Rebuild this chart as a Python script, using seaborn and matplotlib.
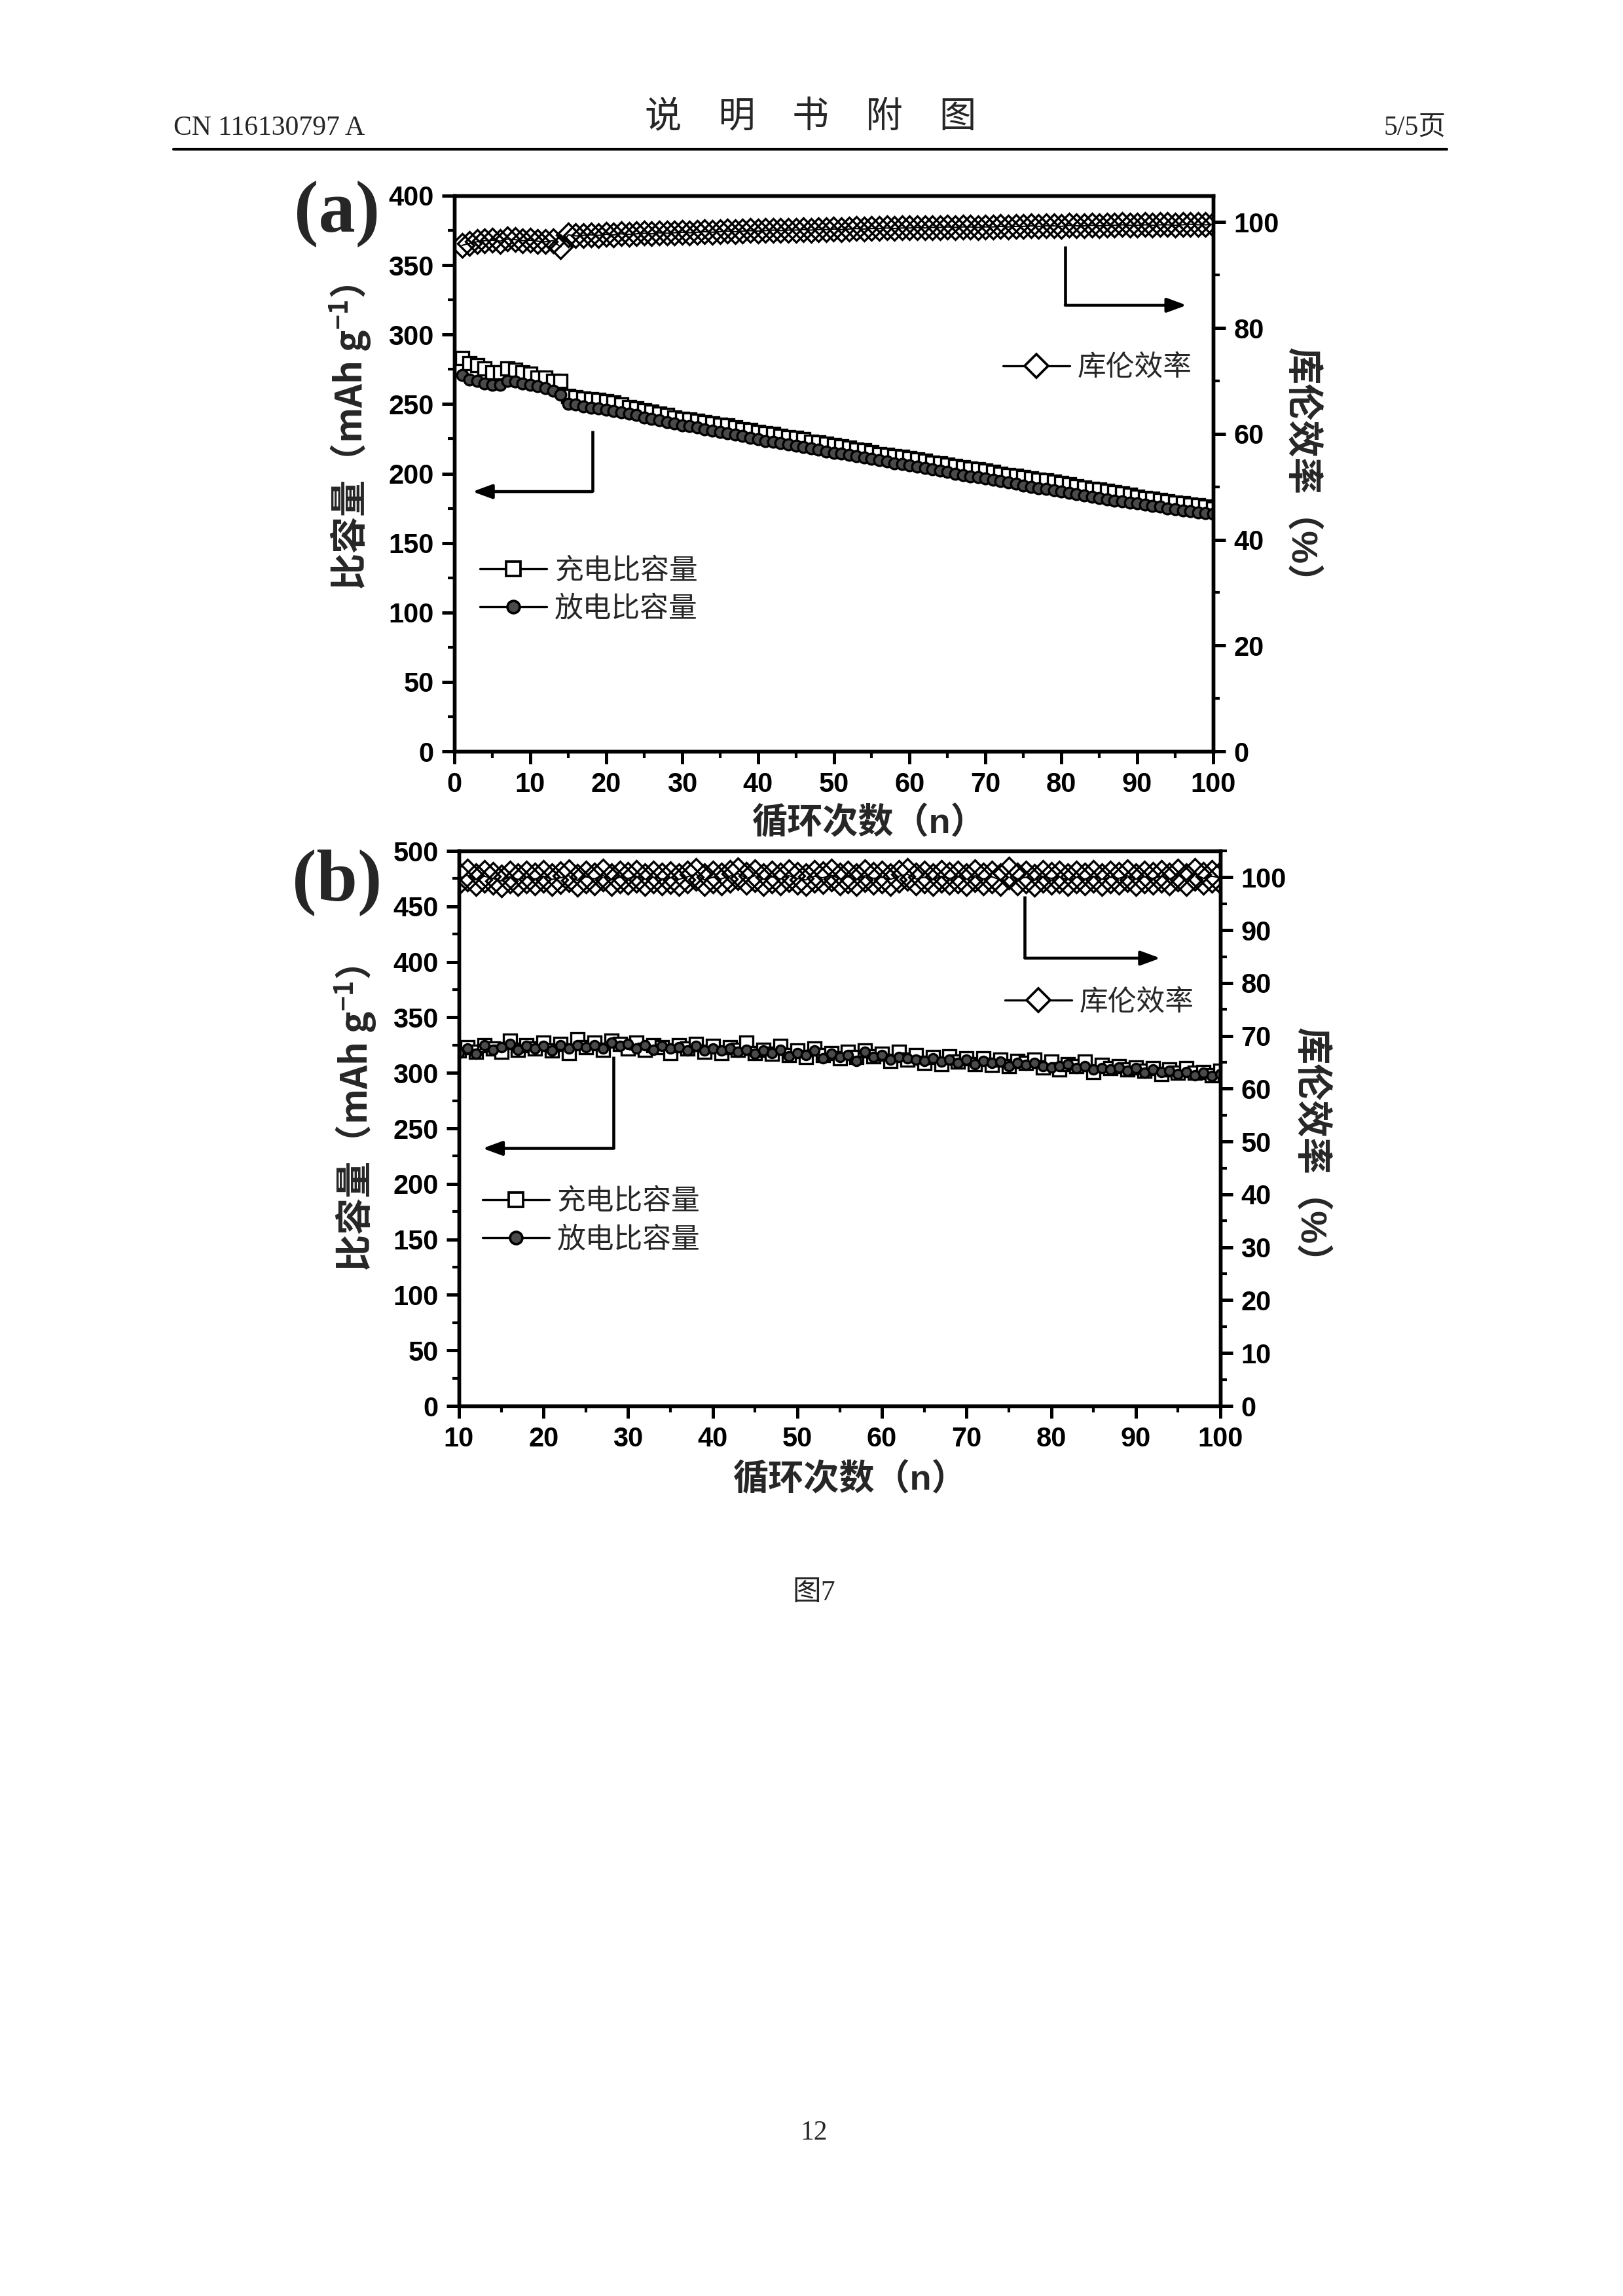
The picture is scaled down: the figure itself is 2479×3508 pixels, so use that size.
import matplotlib
matplotlib.use('Agg')
import matplotlib.pyplot as plt
from matplotlib.lines import Line2D
from matplotlib.ticker import MultipleLocator
import seaborn as sns

# ---- values ----
cycles_a = list(range(1, 101))
charge_a = [283, 279.5, 278, 275.5, 273, 273, 275.5, 274.5, 273, 272,
            269, 269, 266.5, 266.5, 256, 255, 254, 253.5, 253, 252,
            251, 249.5, 248, 247, 245.5, 244.5, 243, 242, 240.5, 239.5,
            239, 238, 237, 236, 235, 234.5, 233, 232, 231.5, 230,
            229, 228.5, 227, 226, 225.5, 224.5, 223, 222.5, 221.5, 220.5,
            219.5, 218.5, 217, 216.5, 215.5, 214, 213.5, 212.5, 212, 211,
            210, 209, 208, 207.5, 206.5, 205.5, 204.5, 203.5, 203, 202,
            201, 200, 199, 198.5, 197.5, 196.5, 195.5, 195, 194, 193,
            192, 191, 190, 189, 188.5, 187.5, 186.5, 185.5, 184.5, 183.5,
            182.5, 182, 181, 180, 179, 178.5, 177.5, 177, 176, 175]
discharge_a = [271, 267.5, 266.5, 265, 264, 264, 266.5, 266, 265, 264,
               263, 261.5, 259.5, 257, 250, 249.5, 248.5, 247.5, 247, 246,
               245, 244, 243, 242, 240.5, 239.5, 238.5, 237, 236, 234.5,
               234, 233, 232, 231, 230, 229, 228, 227, 225.5, 224.5,
               223.5, 223, 222, 221, 220, 219, 218, 217, 216, 215,
               214.5, 213.5, 212.5, 211.5, 210.5, 209.5, 208.5, 207.5, 207, 206,
               205, 204, 203, 202, 201, 200, 199, 198, 197.5, 196.5,
               195.5, 194.5, 193.5, 192.5, 191.5, 190.5, 189.5, 189, 188, 187,
               186, 185, 184, 183.5, 182.5, 181.5, 180.5, 180, 179, 178.5,
               177.5, 176.5, 176, 175, 174.5, 173.5, 173, 172, 171.5, 171]
ce_a = [95.6, 96.0, 96.3, 96.5, 96.6, 96.4, 96.8, 96.7, 96.5, 96.6,
        96.4, 96.3, 96.5, 95.3, 97.6, 97.4, 97.5, 97.6, 97.5, 97.7,
        97.6, 97.8, 97.7, 97.8, 97.9, 97.8, 98.0, 97.9, 98.0, 98.1,
        98.0, 98.1, 98.2, 98.1, 98.2, 98.3, 98.2, 98.3, 98.4, 98.3,
        98.4, 98.5, 98.4, 98.5, 98.5, 98.6, 98.5, 98.6, 98.6, 98.7,
        98.6, 98.7, 98.8, 98.7, 98.8, 98.8, 98.9, 98.8, 98.9, 98.9,
        99.0, 98.9, 99.0, 99.0, 99.1, 99.0, 99.1, 99.1, 99.0, 99.1,
        99.1, 99.2, 99.1, 99.2, 99.2, 99.3, 99.2, 99.3, 99.3, 99.2,
        99.4, 99.3, 99.3, 99.4, 99.3, 99.4, 99.4, 99.5, 99.4, 99.4,
        99.5, 99.4, 99.5, 99.5, 99.4, 99.5, 99.6, 99.5, 99.5, 99.6]

cycles_b = list(range(10, 101))
charge_b = [320, 323, 319, 325, 322, 319, 329, 321, 325, 322,
            327, 320, 326, 318, 330, 323, 327, 321, 329, 326,
            322, 327, 321, 325, 323, 318, 325, 322, 326, 319,
            324, 318, 323, 321, 327, 318, 321, 317, 324, 316,
            320, 314, 322, 316, 318, 313, 319, 314, 320, 315,
            317, 311, 319, 312, 316, 309, 314, 308, 315, 310,
            313, 308, 313, 307, 312, 306, 311, 309, 312, 305,
            310, 303, 308, 306, 310, 301, 307, 304, 306, 303,
            305, 302, 304, 299, 303, 300, 304, 300, 301, 298,
            302]
discharge_b = [318, 322, 317, 325, 321, 323, 326, 321, 324, 322,
               324, 320, 325, 322, 325, 323, 325, 322, 327, 324,
               326, 322, 325, 321, 324, 322, 323, 320, 324, 320,
               322, 320, 322, 319, 321, 317, 320, 318, 321, 315,
               318, 316, 320, 313, 317, 314, 316, 311, 319, 314,
               316, 312, 314, 313, 312, 311, 313, 310, 312, 309,
               312, 308, 311, 309, 310, 306, 309, 307, 309, 306,
               305, 306, 308, 304, 306, 303, 304, 303, 305, 302,
               304, 300, 303, 301, 302, 299, 301, 298, 300, 297,
               299]
ce_b = [99.8, 100.4, 99.5, 100.2, 99.8, 99.3, 100.1, 99.6, 100.0, 99.7,
        100.2, 99.6, 99.9, 100.3, 99.4, 100.1, 99.7, 100.4, 99.5, 100.0,
        99.8, 100.2, 99.6, 100.0, 99.7, 99.9, 99.6, 100.1, 100.6, 99.5,
        100.0, 99.7, 100.2, 100.7, 99.8, 100.3, 99.6, 100.1, 99.7, 100.3,
        99.8, 99.5, 100.2, 99.9, 100.4, 99.7, 100.1, 99.5, 100.3, 99.8,
        100.0, 99.6, 100.2, 100.6, 99.7, 100.0, 99.5, 100.2, 99.8, 100.1,
        99.6, 100.3, 99.7, 100.1, 99.5, 100.8, 99.7, 100.0, 99.4, 100.2,
        99.8, 100.1, 99.5, 100.0, 99.7, 100.2, 99.6, 100.0, 99.8, 100.3,
        99.6, 100.1, 99.8, 100.2, 99.7, 100.4, 99.5, 100.6, 99.8, 100.2,
        99.9]

label_charge = '充电比容量'
label_discharge = '放电比容量'
label_ce = '库伦效率'
ylabel_left = '比容量（mAh g$^{-1}$）'
ylabel_right = '库伦效率（%）'
xlabel_text = '循环次数（n）'

# ---- style ----
sns.set_theme(style='ticks')
plt.rcParams['font.family'] = ['Liberation Sans', 'Noto Sans CJK SC', 'DejaVu Sans']
plt.rcParams['font.weight'] = 'bold'
# the left y label goes through mathtext (superscript), which only uses one font
plt.rcParams['mathtext.fontset'] = 'custom'
plt.rcParams['mathtext.rm'] = 'Noto Sans CJK SC:bold'
plt.rcParams['mathtext.bf'] = 'Noto Sans CJK SC:bold'
plt.rcParams['mathtext.it'] = 'Noto Sans CJK SC:bold'
plt.rcParams['mathtext.default'] = 'bf'

W, H = 2479, 3508
fig = plt.figure(figsize=(W / 300, H / 300), dpi=300)
fig.patch.set_facecolor('white')


def fx(px):
    return px / W


def fy(py):
    return 1 - py / H


legend_prop = {'family': ['Noto Sans CJK SC', 'DejaVu Sans'], 'size': 10.5, 'weight': 'normal'}


def draw_arrow(ax, top, corner, tip):
    ax.plot([top[0], corner[0]], [top[1], corner[1]], color='black', lw=1.1,
            solid_capstyle='butt')
    ax.annotate('', xy=tip, xytext=corner,
                arrowprops=dict(arrowstyle='-|>,head_length=0.6,head_width=0.22',
                                color='black', lw=1.1, shrinkA=0, shrinkB=0,
                                mutation_scale=10))


def panel(rect, cycles, charge, discharge, ce, cfg):
    ax = fig.add_axes(rect)
    ax.set_facecolor('white')
    ax2 = ax.twinx()

    sns.lineplot(x=cycles, y=charge, ax=ax, color='black', marker='s',
                 markersize=cfg['ms_sq'], markerfacecolor='white',
                 markeredgecolor='black', markeredgewidth=0.8, linewidth=0.6,
                 legend=False, errorbar=None)
    sns.lineplot(x=cycles, y=discharge, ax=ax, color='black', marker='o',
                 markersize=cfg['ms_ci'], markerfacecolor='#4a4a4a',
                 markeredgecolor='black', markeredgewidth=0.8, linewidth=0.6,
                 legend=False, errorbar=None)
    sns.lineplot(x=cycles, y=ce, ax=ax2, color='black', marker='D',
                 markersize=cfg['ms_di'], markerfacecolor='none',
                 markeredgecolor='black', markeredgewidth=0.8, linewidth=0.5,
                 legend=False, errorbar=None)

    ax.set_xlim(*cfg['xlim'])
    ax.set_ylim(0, cfg['ymax'])
    ax2.set_ylim(0, 105)
    ax.xaxis.set_major_locator(MultipleLocator(10))
    ax.xaxis.set_minor_locator(MultipleLocator(5))
    ax.yaxis.set_major_locator(MultipleLocator(50))
    ax.yaxis.set_minor_locator(MultipleLocator(25))
    ax2.yaxis.set_major_locator(MultipleLocator(cfg['rstep']))
    ax2.yaxis.set_minor_locator(MultipleLocator(cfg['rstep'] / 2))

    for a in (ax, ax2):
        a.tick_params(which='major', direction='out', length=4.5, width=1.2,
                      labelsize=10, pad=3, colors='black')
        a.tick_params(which='minor', direction='out', length=2.5, width=1.0,
                      colors='black')
        for sp in a.spines.values():
            sp.set_linewidth(1.3)
            sp.set_color('black')
    ax.tick_params(top=False, right=False, which='both')
    ax2.tick_params(left=False, which='both')

    ax.set_xlabel(xlabel_text, fontsize=13, fontweight='bold', ha='center', va='center')
    ax.xaxis.set_label_coords(*cfg['xlab'])
    ax.set_ylabel(ylabel_left, fontsize=13.5, fontweight='bold', ha='center',
                  va='center', rotation=90, family='Noto Sans CJK SC')
    ax.yaxis.set_label_coords(*cfg['ylab'])
    ax2.set_ylabel(ylabel_right, fontsize=13.5, fontweight='bold', ha='center',
                   va='center', rotation=-90)
    ax2.yaxis.set_label_coords(*cfg['rlab'])

    h_charge = Line2D([0], [0], color='black', lw=0.8, marker='s', ms=5.5,
                      mfc='white', mec='black', mew=0.9)
    h_dis = Line2D([0], [0], color='black', lw=0.8, marker='o', ms=4.5,
                   mfc='#4a4a4a', mec='black', mew=0.9)
    h_ce = Line2D([0], [0], color='black', lw=0.8, marker='D', ms=6,
                  mfc='white', mec='black', mew=0.9)
    leg = ax.legend([h_charge, h_dis], [label_charge, label_discharge],
                    loc='upper left', bbox_to_anchor=cfg['leg'], frameon=False,
                    prop=legend_prop, handlelength=2.33, handletextpad=0.27,
                    labelspacing=0.28, borderpad=0, borderaxespad=0)
    leg.set_zorder(5)
    ax2.legend([h_ce], [label_ce], loc='upper left', bbox_to_anchor=cfg['celeg'],
               frameon=False, prop=legend_prop, handlelength=2.33,
               handletextpad=0.27, borderpad=0, borderaxespad=0)

    draw_arrow(ax, *cfg['arrow_left'])
    draw_arrow(ax2, *cfg['arrow_right'])
    return ax, ax2


cfg_a = dict(ms_sq=5, ms_ci=4, ms_di=6.2, xlim=(0, 100), ymax=400, rstep=20,
             xlab=(0.547, -0.130), ylab=(-0.137, 0.565), rlab=(1.115, 0.498),
             leg=(0.034, 0.353), celeg=(0.723, 0.7185),
             arrow_left=((18.2, 231), (18.2, 187), (2.4, 187)),
             arrow_right=((80.5, 95.5), (80.5, 84.3), (96.5, 84.3)))
cfg_b = dict(ms_sq=4.6, ms_ci=3.4, ms_di=8, xlim=(10, 100), ymax=500, rstep=10,
             xlab=(0.514, -0.133), ylab=(-0.135, 0.517), rlab=(1.117, 0.453),
             leg=(0.031, 0.396), celeg=(0.717, 0.755),
             arrow_left=((28.3, 315), (28.3, 232), (12.8, 232)),
             arrow_right=((76.9, 96.5), (76.9, 84.7), (92.9, 84.7)))

panel([fx(694), fy(1148), fx(1853) - fx(694), fy(299) - fy(1148)],
      cycles_a, charge_a, discharge_a, ce_a, cfg_a)
panel([fx(701), fy(2148), fx(1864) - fx(701), fy(1300) - fy(2148)],
      cycles_b, charge_b, discharge_b, ce_b, cfg_b)

# panel letters
fig.text(fx(515), fy(326), '(a)', fontsize=27, fontweight='bold',
         family='Liberation Serif', ha='center', va='center')
fig.text(fx(515), fy(1348), '(b)', fontsize=27, fontweight='bold',
         family='Liberation Serif', ha='center', va='center')

# page header / footer
fig.text(fx(265), fy(196), 'CN 116130797 A', fontsize=10, fontweight='normal',
         family='Liberation Serif', ha='left', va='center')
fig.text(fx(1238), fy(179), '说\u3000明\u3000书\u3000附\u3000图', fontsize=13.5,
         fontweight='normal', family=['Noto Sans CJK SC', 'DejaVu Sans'],
         ha='center', va='center')
fig.text(fx(2208), fy(196), '5/5页', fontsize=10, fontweight='normal',
         family=['Liberation Serif', 'Noto Sans CJK SC'], ha='right', va='center')
fig.add_artist(Line2D([fx(265), fx(2210)], [fy(228), fy(228)], color='black', lw=1.0))
fig.text(fx(1243), fy(2434), '图7', fontsize=10.5, fontweight='normal',
         family=['Liberation Serif', 'Noto Sans CJK SC'], ha='center', va='center')
fig.text(fx(1243), fy(3259), '12', fontsize=10, fontweight='normal',
         family='Liberation Serif', ha='center', va='center')

fig.savefig('out.png', dpi=300, facecolor='white')
